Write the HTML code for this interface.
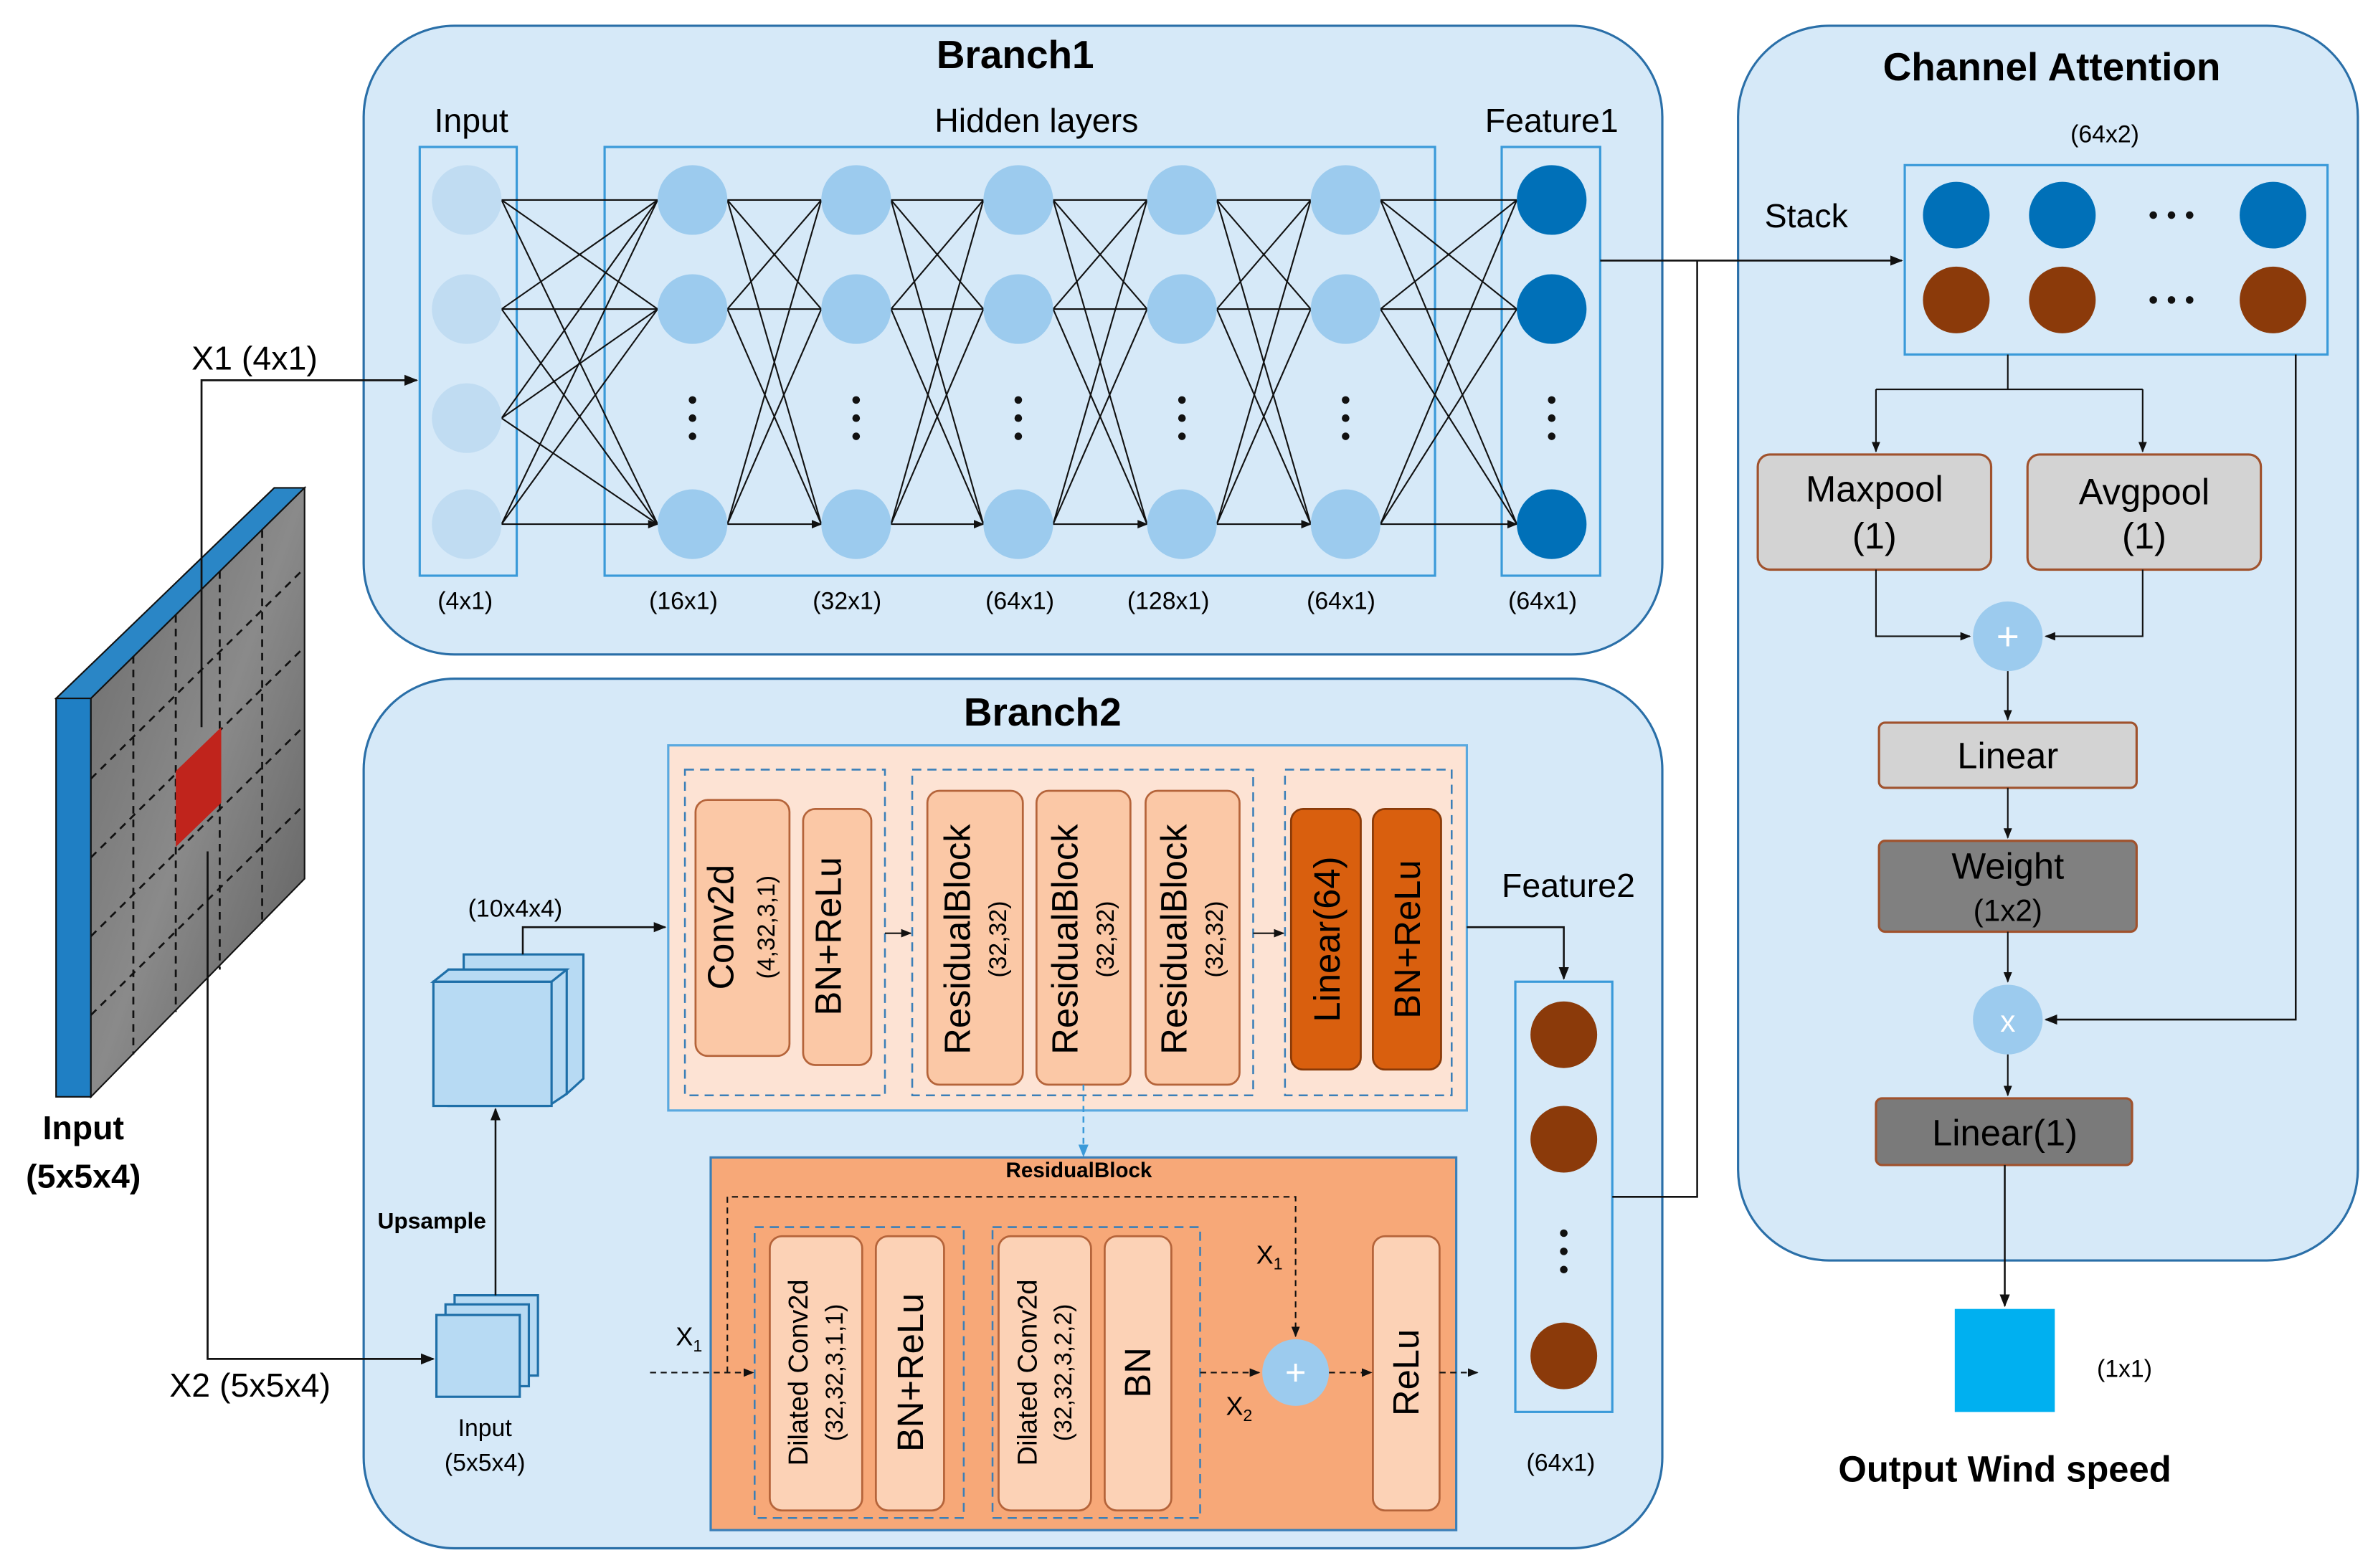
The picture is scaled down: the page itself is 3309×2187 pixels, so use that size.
<!DOCTYPE html>
<html><head><meta charset="utf-8"><style>
html,body{margin:0;padding:0;background:#fff}
svg{display:block}
text{font-family:"Liberation Sans",sans-serif}
</style></head><body>
<svg width="3309" height="2187" viewBox="0 0 1566 1035" xmlns="http://www.w3.org/2000/svg">
<defs>
<marker id="a" viewBox="0 0 10 10" refX="9" refY="5" markerWidth="7" markerHeight="7" orient="auto"><path d="M0,1 L10,5 L0,9 z" fill="#111"/></marker>
<marker id="ab" viewBox="0 0 10 10" refX="9" refY="5" markerWidth="7" markerHeight="7" orient="auto"><path d="M0,1 L10,5 L0,9 z" fill="#3a9ad9"/></marker>
<linearGradient id="g" x1="0" y1="0" x2="1" y2="1"><stop offset="0" stop-color="#6a6a6a"/><stop offset="0.5" stop-color="#8a8a8a"/><stop offset="1" stop-color="#5a5a5a"/></linearGradient>
</defs>
<!-- Main boxes -->
<rect x="240" y="17" width="857" height="415" rx="60" fill="#d6e9f8" stroke="#2a6fa8" stroke-width="1.5"/>
<rect x="240" y="448" width="857" height="574" rx="60" fill="#d6e9f8" stroke="#2a6fa8" stroke-width="1.5"/>
<rect x="1147" y="17" width="409" height="815" rx="60" fill="#d6e9f8" stroke="#2a6fa8" stroke-width="1.5"/>
<text x="670" y="45" font-size="26" font-weight="bold" text-anchor="middle">Branch1</text>
<text x="688" y="479" font-size="26" font-weight="bold" text-anchor="middle">Branch2</text>
<text x="1354" y="53" font-size="26" font-weight="bold" text-anchor="middle">Channel Attention</text>

<!-- Branch1 -->
<rect x="277" y="97" width="64" height="283" fill="none" stroke="#3a9ad9" stroke-width="1.5"/>
<rect x="399" y="97" width="548" height="283" fill="none" stroke="#3a9ad9" stroke-width="1.5"/>
<rect x="991" y="97" width="65" height="283" fill="none" stroke="#3a9ad9" stroke-width="1.5"/>
<text x="311" y="87" font-size="22" text-anchor="middle">Input</text>
<text x="684" y="87" font-size="22" text-anchor="middle">Hidden layers</text>
<text x="1024" y="87" font-size="22" text-anchor="middle">Feature1</text>
<g font-size="16" text-anchor="middle">
<text x="307" y="402">(4x1)</text><text x="451" y="402">(16x1)</text><text x="559" y="402">(32x1)</text><text x="673" y="402">(64x1)</text><text x="771" y="402">(128x1)</text><text x="885" y="402">(64x1)</text><text x="1018" y="402">(64x1)</text>
</g>
<g stroke="#111" stroke-width="1" marker-end="url(#a)">
<!-- input -> 16 -->
<path d="M331,132L434,132M331,132L434,204M331,132L434,346M331,204L434,132M331,204L434,204M331,204L434,346M331,276L434,132M331,276L434,204M331,276L434,346M331,346L434,132M331,346L434,204M331,346L434,346"/>
<path d="M480,132L542,132M480,132L542,204M480,132L542,346M480,204L542,132M480,204L542,204M480,204L542,346M480,346L542,132M480,346L542,204M480,346L542,346"/>
<path d="M588,132L649,132M588,132L649,204M588,132L649,346M588,204L649,132M588,204L649,204M588,204L649,346M588,346L649,132M588,346L649,204M588,346L649,346"/>
<path d="M695,132L757,132M695,132L757,204M695,132L757,346M695,204L757,132M695,204L757,204M695,204L757,346M695,346L757,132M695,346L757,204M695,346L757,346"/>
<path d="M803,132L865,132M803,132L865,204M803,132L865,346M803,204L865,132M803,204L865,204M803,204L865,346M803,346L865,132M803,346L865,204M803,346L865,346"/>
<path d="M911,132L1001,132M911,132L1001,204M911,132L1001,346M911,204L1001,132M911,204L1001,204M911,204L1001,346M911,346L1001,132M911,346L1001,204M911,346L1001,346"/>
</g>
<g fill="#c0dcf2"><circle cx="308" cy="132" r="23"/><circle cx="308" cy="204" r="23"/><circle cx="308" cy="276" r="23"/><circle cx="308" cy="346" r="23"/></g>
<g fill="#9ccbee">
<circle cx="457" cy="132" r="23"/><circle cx="457" cy="204" r="23"/><circle cx="457" cy="346" r="23"/>
<circle cx="565" cy="132" r="23"/><circle cx="565" cy="204" r="23"/><circle cx="565" cy="346" r="23"/>
<circle cx="672" cy="132" r="23"/><circle cx="672" cy="204" r="23"/><circle cx="672" cy="346" r="23"/>
<circle cx="780" cy="132" r="23"/><circle cx="780" cy="204" r="23"/><circle cx="780" cy="346" r="23"/>
<circle cx="888" cy="132" r="23"/><circle cx="888" cy="204" r="23"/><circle cx="888" cy="346" r="23"/>
</g>
<g fill="#0070b8"><circle cx="1024" cy="132" r="23"/><circle cx="1024" cy="204" r="23"/><circle cx="1024" cy="346" r="23"/></g>
<g fill="#111">
<circle cx="457" cy="264" r="2.5"/><circle cx="457" cy="276" r="2.5"/><circle cx="457" cy="288" r="2.5"/>
<circle cx="565" cy="264" r="2.5"/><circle cx="565" cy="276" r="2.5"/><circle cx="565" cy="288" r="2.5"/>
<circle cx="672" cy="264" r="2.5"/><circle cx="672" cy="276" r="2.5"/><circle cx="672" cy="288" r="2.5"/>
<circle cx="780" cy="264" r="2.5"/><circle cx="780" cy="276" r="2.5"/><circle cx="780" cy="288" r="2.5"/>
<circle cx="888" cy="264" r="2.5"/><circle cx="888" cy="276" r="2.5"/><circle cx="888" cy="288" r="2.5"/>
<circle cx="1024" cy="264" r="2.5"/><circle cx="1024" cy="276" r="2.5"/><circle cx="1024" cy="288" r="2.5"/>
</g>

<!-- Input cube -->
<polygon points="37,461 60,461 201,322 181,322" fill="#2a86c6" stroke="#111" stroke-width="1"/>
<polygon points="37,461 60,461 60,724 37,724" fill="#1f7fc4" stroke="#111" stroke-width="1"/>
<polygon points="60,461 201,322 201,580 60,724" fill="url(#g)" stroke="#111" stroke-width="1"/>
<g stroke="#111" stroke-width="1.3" stroke-dasharray="5,4" fill="none">
<line x1="88" y1="433" x2="88" y2="696"/><line x1="116" y1="406" x2="116" y2="668"/><line x1="145" y1="377" x2="145" y2="640"/><line x1="173" y1="350" x2="173" y2="608"/>
<line x1="60" y1="514" x2="201" y2="375"/><line x1="60" y1="566" x2="201" y2="427"/><line x1="60" y1="618" x2="201" y2="479"/><line x1="60" y1="670" x2="201" y2="531"/>
</g>
<polygon points="116,509 146,480 146,530 116,559" fill="#c0241c"/>
<text x="55" y="752" font-size="22" font-weight="bold" text-anchor="middle">Input</text>
<text x="55" y="784" font-size="22" font-weight="bold" text-anchor="middle">(5x5x4)</text>
<path d="M133,480 V251 H275" stroke="#111" stroke-width="1.3" fill="none" marker-end="url(#a)"/>
<text x="168" y="244" font-size="22" text-anchor="middle">X1 (4x1)</text>
<path d="M137,562 V897 H286" stroke="#111" stroke-width="1.3" fill="none" marker-end="url(#a)"/>
<text x="165" y="922" font-size="22" text-anchor="middle">X2 (5x5x4)</text>

<!-- Branch2 cubes -->
<g fill="#b7daf3" stroke="#1e6fa8" stroke-width="1.5">
<polygon points="306,630 385,630 385,712 374,722 306,722"/>
<polygon points="296,640 374,640 374,722 362,730 296,730"/>
<rect x="286" y="648" width="78" height="82"/>
<polygon points="286,648 296,640 374,640 364,648"/>
</g>
<text x="340" y="605" font-size="16" text-anchor="middle">(10x4x4)</text>
<g fill="#b7daf3" stroke="#1e6fa8" stroke-width="1.5">
<polygon points="300,855 355,855 355,908 300,908"/>
<polygon points="294,861 349,861 349,915 294,915"/>
<rect x="288" y="868" width="55" height="54"/>
</g>
<text x="320" y="948" font-size="16" text-anchor="middle">Input</text>
<text x="320" y="971" font-size="16" text-anchor="middle">(5x5x4)</text>
<text x="285" y="811" font-size="15" font-weight="bold" text-anchor="middle">Upsample</text>
<path d="M327,855 V732" stroke="#111" stroke-width="1.2" marker-end="url(#a)"/>
<path d="M345,630 V612 H439" stroke="#111" stroke-width="1.2" fill="none" marker-end="url(#a)"/>

<!-- Top salmon block -->
<rect x="441" y="492" width="527" height="241" fill="#fde3d4" stroke="#5aa9e0" stroke-width="1.5"/>
<g fill="none" stroke="#3a7fb8" stroke-width="1.2" stroke-dasharray="6,4">
<rect x="452" y="508" width="132" height="215"/><rect x="602" y="508" width="225" height="215"/><rect x="848" y="508" width="110" height="215"/>
</g>
<g fill="#fbc8a6" stroke="#b5643a" stroke-width="1.3">
<rect x="459" y="528" width="62" height="169" rx="8"/><rect x="530" y="534" width="45" height="169" rx="8"/>
<rect x="612" y="522" width="63" height="194" rx="8"/><rect x="684" y="522" width="62" height="194" rx="8"/><rect x="756" y="522" width="62" height="194" rx="8"/>
</g>
<g fill="#d95f0e" stroke="#8a3a08" stroke-width="1.3">
<rect x="852" y="534" width="46" height="172" rx="8"/><rect x="906" y="534" width="45" height="172" rx="8"/>
</g>
<g font-size="24" text-anchor="middle">
<text transform="translate(484,612) rotate(-90)">Conv2d</text>
<text transform="translate(555,618) rotate(-90)">BN+ReLu</text>
<text transform="translate(640,620) rotate(-90)">ResidualBlock</text>
<text transform="translate(711,620) rotate(-90)">ResidualBlock</text>
<text transform="translate(783,620) rotate(-90)">ResidualBlock</text>
<text transform="translate(884,620) rotate(-90)">Linear(64)</text>
<text transform="translate(937,620) rotate(-90)">BN+ReLu</text>
</g>
<g font-size="16" text-anchor="middle">
<text transform="translate(511,612) rotate(-90)">(4,32,3,1)</text>
<text transform="translate(664,620) rotate(-90)">(32,32)</text>
<text transform="translate(735,620) rotate(-90)">(32,32)</text>
<text transform="translate(807,620) rotate(-90)">(32,32)</text>
</g>
<g stroke="#111" stroke-width="1" marker-end="url(#a)">
<line x1="584" y1="616" x2="601" y2="616"/><line x1="827" y1="616" x2="847" y2="616"/>
</g>
<line x1="715" y1="716" x2="715" y2="763" stroke="#3a9ad9" stroke-width="1.2" stroke-dasharray="4,3" marker-end="url(#ab)"/>

<!-- Bottom residual block -->
<rect x="469" y="764" width="492" height="246" fill="#f7a878" stroke="#3a7fb8" stroke-width="1.5"/>
<text x="712" y="777" font-size="14" font-weight="bold" text-anchor="middle">ResidualBlock</text>
<g fill="none" stroke="#3a7fb8" stroke-width="1.2" stroke-dasharray="6,4">
<rect x="498" y="810" width="138" height="192"/><rect x="655" y="810" width="137" height="192"/>
</g>
<g fill="#fcd2b6" stroke="#b5643a" stroke-width="1.3">
<rect x="508" y="816" width="61" height="181" rx="8"/><rect x="578" y="816" width="45" height="181" rx="8"/>
<rect x="659" y="816" width="61" height="181" rx="8"/><rect x="729" y="816" width="44" height="181" rx="8"/>
<rect x="906" y="816" width="44" height="181" rx="8"/>
</g>
<g font-size="18" text-anchor="middle">
<text transform="translate(533,906) rotate(-90)">Dilated Conv2d</text>
<text transform="translate(684,906) rotate(-90)">Dilated Conv2d</text>
</g>
<g font-size="16" text-anchor="middle">
<text transform="translate(556,906) rotate(-90)">(32,32,3,1,1)</text>
<text transform="translate(707,906) rotate(-90)">(32,32,3,2,2)</text>
</g>
<g font-size="24" text-anchor="middle">
<text transform="translate(609,906) rotate(-90)">BN+ReLu</text>
<text transform="translate(759,906) rotate(-90)">BN</text>
<text transform="translate(936,906) rotate(-90)">ReLu</text>
</g>
<g stroke="#111" stroke-width="1" stroke-dasharray="4,3" fill="none">
<path d="M429,906 H497" marker-end="url(#a)"/>
<path d="M480,906 V790 H855 V882" marker-end="url(#a)"/>
<path d="M792,906 H831" marker-end="url(#a)"/>
<path d="M877,906 H905" marker-end="url(#a)"/>
<path d="M950,906 H975" marker-end="url(#a)"/>
</g>
<circle cx="855" cy="906" r="22" fill="#9ccbee"/>
<text x="855" y="914" font-size="24" fill="#fff" text-anchor="middle">+</text>
<text x="446" y="888" font-size="17">X<tspan font-size="11" dy="4">1</tspan></text>
<text x="829" y="834" font-size="17">X<tspan font-size="11" dy="4">1</tspan></text>
<text x="809" y="934" font-size="17">X<tspan font-size="11" dy="4">2</tspan></text>

<!-- Feature2 -->
<text x="1035" y="592" font-size="22" text-anchor="middle">Feature2</text>
<path d="M968,612 H1032 V646" stroke="#111" stroke-width="1.2" fill="none" marker-end="url(#a)"/>
<rect x="1000" y="648" width="64" height="284" fill="none" stroke="#3a9ad9" stroke-width="1.5"/>
<g fill="#8b3a0a"><circle cx="1032" cy="683" r="22"/><circle cx="1032" cy="752" r="22"/><circle cx="1032" cy="895" r="22"/></g>
<g fill="#111"><circle cx="1032" cy="814" r="2.5"/><circle cx="1032" cy="826" r="2.5"/><circle cx="1032" cy="838" r="2.5"/></g>
<text x="1030" y="971" font-size="16" text-anchor="middle">(64x1)</text>
<path d="M1064,790 H1120 V172" stroke="#111" stroke-width="1.2" fill="none"/>
<path d="M1056,172 H1255" stroke="#111" stroke-width="1.2" fill="none" marker-end="url(#a)"/>

<!-- Channel attention -->
<text x="1389" y="94" font-size="16" text-anchor="middle">(64x2)</text>
<text x="1192" y="150" font-size="22" text-anchor="middle">Stack</text>
<rect x="1257" y="109" width="279" height="125" fill="none" stroke="#3a9ad9" stroke-width="1.5"/>
<g fill="#0070b8"><circle cx="1291" cy="142" r="22"/><circle cx="1361" cy="142" r="22"/><circle cx="1500" cy="142" r="22"/></g>
<g fill="#8b3a0a"><circle cx="1291" cy="198" r="22"/><circle cx="1361" cy="198" r="22"/><circle cx="1500" cy="198" r="22"/></g>
<g fill="#111"><circle cx="1421" cy="142" r="2.5"/><circle cx="1433" cy="142" r="2.5"/><circle cx="1445" cy="142" r="2.5"/>
<circle cx="1421" cy="198" r="2.5"/><circle cx="1433" cy="198" r="2.5"/><circle cx="1445" cy="198" r="2.5"/></g>
<path d="M1325,234 V257 M1238,257 H1414" stroke="#111" stroke-width="1" fill="none"/>
<path d="M1238,257 V298" stroke="#111" stroke-width="1" marker-end="url(#a)"/>
<path d="M1414,257 V298" stroke="#111" stroke-width="1" marker-end="url(#a)"/>
<rect x="1160" y="300" width="154" height="76" rx="8" fill="#d3d3d3" stroke="#a0522d" stroke-width="1.5"/>
<rect x="1338" y="300" width="154" height="76" rx="8" fill="#d3d3d3" stroke="#a0522d" stroke-width="1.5"/>
<g font-size="24" text-anchor="middle">
<text x="1237" y="331">Maxpool</text><text x="1237" y="362">(1)</text>
<text x="1415" y="333">Avgpool</text><text x="1415" y="362">(1)</text>
</g>
<path d="M1238,376 V420 H1300" stroke="#111" stroke-width="1" fill="none" marker-end="url(#a)"/>
<path d="M1414,376 V420 H1350" stroke="#111" stroke-width="1" fill="none" marker-end="url(#a)"/>
<circle cx="1325" cy="420" r="23" fill="#9ccbee"/>
<text x="1325" y="429" font-size="26" fill="#fff" text-anchor="middle">+</text>
<path d="M1325,443 V475" stroke="#111" stroke-width="1" marker-end="url(#a)"/>
<rect x="1240" y="477" width="170" height="43" rx="4" fill="#d3d3d3" stroke="#a0522d" stroke-width="1.5"/>
<text x="1325" y="507" font-size="24" text-anchor="middle">Linear</text>
<path d="M1325,520 V553" stroke="#111" stroke-width="1" marker-end="url(#a)"/>
<rect x="1240" y="555" width="170" height="60" rx="4" fill="#808080" stroke="#a0522d" stroke-width="1.5"/>
<text x="1325" y="580" font-size="24" text-anchor="middle">Weight</text>
<text x="1325" y="608" font-size="20" text-anchor="middle">(1x2)</text>
<path d="M1325,615 V648" stroke="#111" stroke-width="1" marker-end="url(#a)"/>
<circle cx="1325" cy="673" r="23" fill="#9ccbee"/>
<text x="1325" y="681" font-size="20" fill="#fff" text-anchor="middle">x</text>
<path d="M1515,234 V673 H1350" stroke="#111" stroke-width="1.2" fill="none" marker-end="url(#a)"/>
<path d="M1325,696 V723" stroke="#111" stroke-width="1" marker-end="url(#a)"/>
<rect x="1238" y="725" width="169" height="44" rx="4" fill="#7a7a7a" stroke="#a0522d" stroke-width="1.5"/>
<text x="1323" y="756" font-size="24" text-anchor="middle">Linear(1)</text>
<path d="M1323,769 V862" stroke="#111" stroke-width="1.2" marker-end="url(#a)"/>
<rect x="1290" y="864" width="66" height="68" fill="#00b0f0"/>
<text x="1402" y="909" font-size="16" text-anchor="middle">(1x1)</text>
<text x="1323" y="978" font-size="24" font-weight="bold" text-anchor="middle">Output Wind speed</text>
</svg>
</body></html>
